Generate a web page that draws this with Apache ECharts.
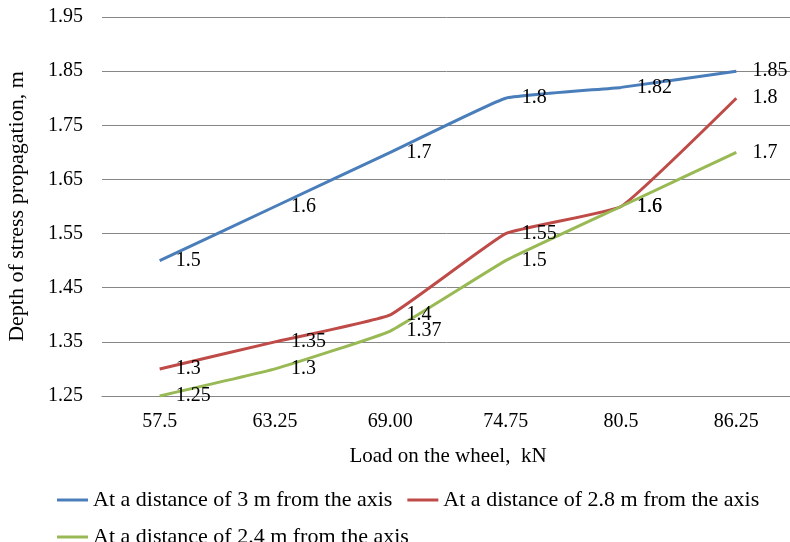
<!DOCTYPE html>
<html>
<head>
<meta charset="utf-8">
<script src="https://cdn.jsdelivr.net/npm/echarts@6/dist/echarts.min.js"></script>
<style>
html, body { margin: 0; padding: 0; background: #fff; }
#main { width: 790px; height: 542px; }
</style>
</head>
<body>
<div id="main"></div>
<script>
var loads = ['57.5', '63.25', '69.00', '74.75', '80.5', '86.25'];
var dist3 = [1.5, 1.6, 1.7, 1.8, 1.82, 1.85];
var dist28 = [1.3, 1.35, 1.4, 1.55, 1.6, 1.8];
var dist24 = [1.25, 1.3, 1.37, 1.5, 1.6, 1.7];
var names = [
    'At a distance of 3 m from the axis',
    'At a distance of 2.8 m from the axis',
    'At a distance of 2.4 m from the axis'
];
var colors = ['#4a7ebb', '#be4b48', '#98b954'];

var font = 'Liberation Serif';

function makeSeries(name, data, color) {
    return {
        name: name,
        type: 'line',
        data: data,
        smooth: 0.1,
        symbol: 'circle',
        symbolSize: 0.1,
        showSymbol: true,
        lineStyle: { color: color, width: 3 },
        itemStyle: { color: color },
        label: {
            show: true,
            position: 'right',
            distance: 16,
            offset: [0, 5],
            color: '#000',
            fontFamily: font,
            fontSize: 20
        },
        labelLayout: { hideOverlap: false }
    };
}

var myChart = echarts.init(document.getElementById('main'));
var option = {
    animation: false,
    grid: { left: 102, right: -4, top: 17, bottom: 146, outerBoundsMode: 'none', containLabel: false },
    legend: {
        data: names,
        left: 57,
        top: 489,
        width: 730,
        padding: 0,
        icon: 'rect',
        itemWidth: 31,
        itemHeight: 3,
        itemGap: 15,
        textStyle: { fontFamily: font, fontSize: 22, color: '#000', lineHeight: 18 }
    },
    xAxis: {
        type: 'category',
        data: loads,
        name: 'Load on the wheel,  kN',
        nameLocation: 'middle',
        nameGap: 50,
        nameTextStyle: { fontFamily: font, fontSize: 21, color: '#000' },
        axisLine: { lineStyle: { color: '#868686' } },
        axisTick: { show: false },
        axisLabel: { fontFamily: font, fontSize: 20, color: '#000', margin: 16 }
    },
    yAxis: {
        type: 'value',
        min: 1.25,
        max: 1.95,
        interval: 0.1,
        name: 'Depth of stress propagation, m',
        nameLocation: 'middle',
        nameGap: 74,
        nameTextStyle: { fontFamily: font, fontSize: 22, color: '#000' },
        axisLine: { show: false },
        axisTick: { show: false },
        splitLine: { lineStyle: { color: '#868686' } },
        axisLabel: {
            fontFamily: font, fontSize: 20, color: '#000', margin: 19,
            formatter: function (v) { return v.toFixed(2); }
        }
    },
    series: [
        makeSeries(names[0], dist3, colors[0]),
        makeSeries(names[1], dist28, colors[1]),
        makeSeries(names[2], dist24, colors[2])
    ]
};
myChart.setOption(option);
</script>
</body>
</html>
